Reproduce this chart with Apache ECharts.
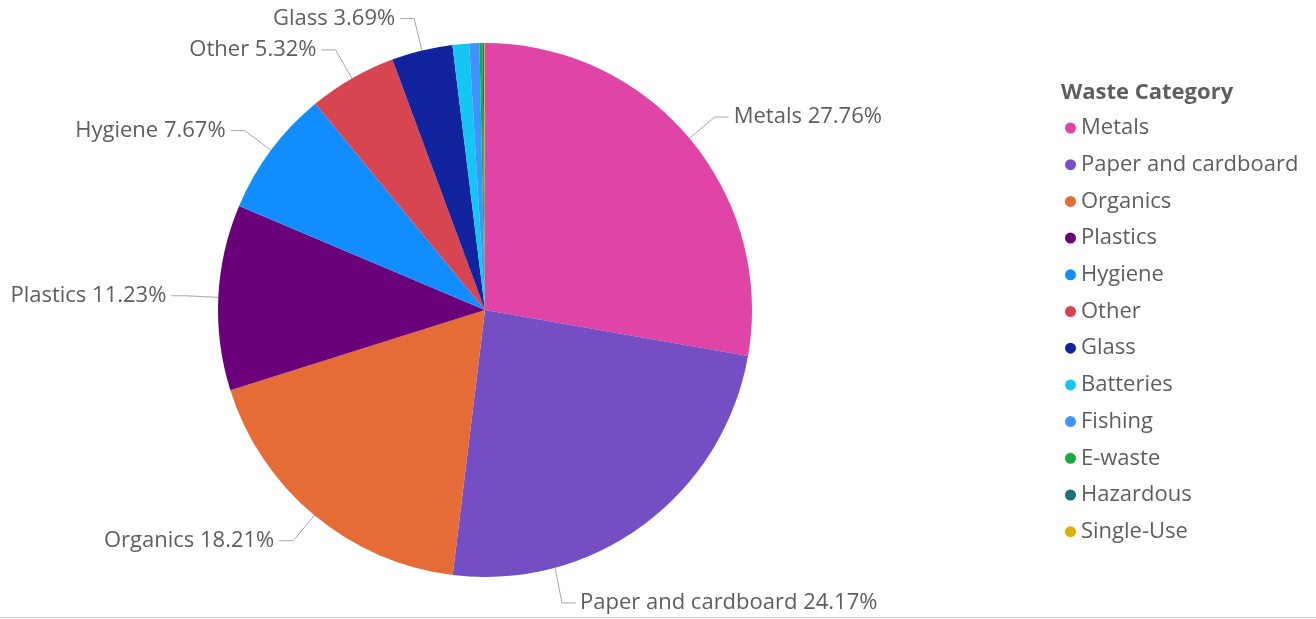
<!DOCTYPE html>
<html><head><meta charset="utf-8">
<script src="https://cdn.jsdelivr.net/npm/echarts@6/dist/echarts.min.js"></script>
<style>html,body{margin:0;padding:0;background:#fff}#c{width:1316px;height:619px}</style>
</head><body><div id="c"></div>
<script>
const categories = ["Metals","Paper and cardboard","Organics","Plastics","Hygiene","Other","Glass","Batteries","Fishing","E-waste","Hazardous","Single-Use"];
const shares = [27.76,24.17,18.21,11.23,7.67,5.32,3.69,1.00,0.62,0.18,0.10,0.05];
const colors = ["#E044A7","#744EC2","#E66C37","#6B007B","#118DFF","#D64550","#12239E","#15C6F4","#4092FF","#1AAB40","#197278","#D9B300"];
const labelledCount = 7;
const legendTitle = "Waste Category";

const CX = 485, CY = 310, R = 267;
const font = "'Segoe UI','Open Sans','Noto Sans',sans-serif";
const chart = echarts.init(document.getElementById('c'), null, {renderer:'canvas'});
const data = categories.map((n,i)=>({
  name:n, value:shares[i],
  itemStyle:{color:colors[i]},
  label:{show:i<labelledCount},
  labelLine:{show:i<labelledCount}
}));
chart.setOption({
  animation:false,
  title:{text:legendTitle,left:1056,top:77,textStyle:{fontFamily:font,fontSize:22,fontWeight:'bold',color:'#605E5C'}},
  legend:{orient:'vertical',left:1060,top:112,icon:'circle',itemWidth:11,itemHeight:11,itemGap:14.7,
    textStyle:{fontFamily:font,fontSize:22,color:'#605E5C'},data:categories},
  graphic:[{type:'line',shape:{x1:0,y1:617.5,x2:1316,y2:617.5},style:{stroke:'#D0D0D0',lineWidth:1}}],
  series:[{
    type:'pie',center:[CX,CY],radius:[0,R],startAngle:90,clockwise:true,
    avoidLabelOverlap:false,
    label:{fontFamily:font,fontSize:22,color:'#605E5C',distanceToLabelLine:5,
      formatter:p=>p.name+' '+p.value.toFixed(2)+'%'},
    labelLine:{length:33,length2:14,lineStyle:{color:'#A8A8A8',width:1}},
    labelLayout:function(p){
      if(p.dataIndex===1){
        const dx = 70;
        const ey = CY + Math.sqrt(R*R - dx*dx);
        const ly = CY + R + 26;
        return {x:CX+95,y:ly,align:'left',verticalAlign:'middle',
          labelLinePoints:[[CX+dx,ey],[CX+dx+7,ly],[CX+dx+21,ly]]};
      }
      return {};
    },
    data:data
  }]
});
</script></body></html>
